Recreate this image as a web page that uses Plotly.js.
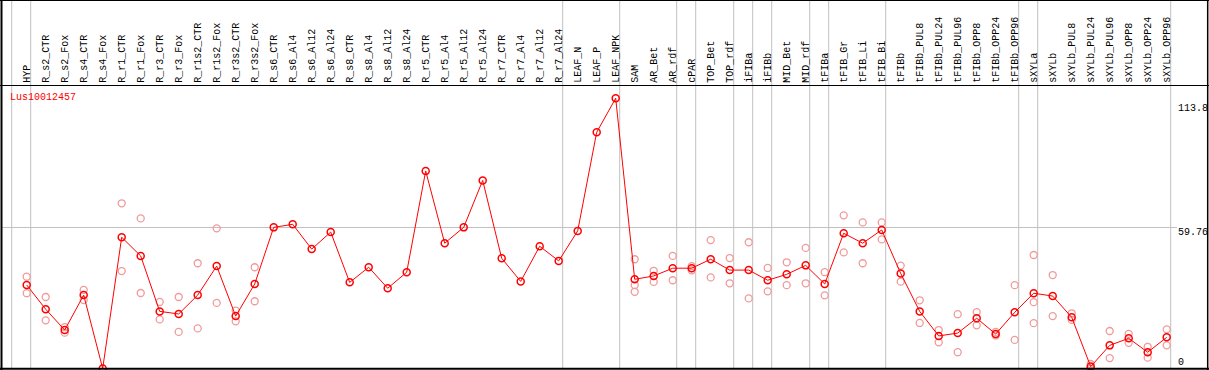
<!DOCTYPE html>
<html>
<head>
<meta charset="utf-8">
<script src="https://cdn.plot.ly/plotly-3.0.1.min.js"></script>
<style>html,body{margin:0;padding:0;background:#fff;}#chart{width:1209px;height:370px;}</style>
</head>
<body>
<div id="chart"></div>
<script>
const categories = ["HYP","R_s2_CTR","R_s2_Fox","R_s4_CTR","R_s4_Fox","R_r1_CTR","R_r1_Fox","R_r3_CTR","R_r3_Fox","R_r1s2_CTR","R_r1s2_Fox","R_r3s2_CTR","R_r3s2_Fox","R_s6_CTR","R_s6_Al4","R_s6_Al12","R_s6_Al24","R_s8_CTR","R_s8_Al4","R_s8_Al12","R_s8_Al24","R_r5_CTR","R_r5_Al4","R_r5_Al12","R_r5_Al24","R_r7_CTR","R_r7_Al4","R_r7_Al12","R_r7_Al24","LEAF_N","LEAF_P","LEAF_NPK","SAM","AR_Bet","AR_rdf","cPAR","TOP_Bet","TOP_rdf","iFIBa","iFIBb","MID_Bet","MID_rdf","tFIBa","tFIB_Gr","tFIB_Li","tFIB_Bi","tFIBb","tFIBb_PUL8","tFIBb_PUL24","tFIBb_PUL96","tFIBb_OPP8","tFIBb_OPP24","tFIBb_OPP96","sXYLa","sXYLb","sXYLb_PUL8","sXYLb_PUL24","sXYLb_PUL96","sXYLb_OPP8","sXYLb_OPP24","sXYLb_OPP96"];

const meanValues = [35.4,25.1,16.3,31.1,0,55.6,47.7,24.2,23.1,31.1,43.4,22.2,35.8,59.8,61.1,50.6,57.8,36.5,42.9,34.0,40.8,83.7,53.1,59.8,79.7,46.7,36.9,51.8,45.6,58.3,100.1,114.5,37.8,39.2,42.5,42.5,46.3,41.7,41.7,37.4,39.9,43.7,35.8,57.3,53.1,58.7,40.3,24.2,13.8,15.0,21.3,14.6,23.8,31.9,30.7,21.7,0.8,9.8,12.8,6.9,13.2];

const rep1 = [38.9,30.3,17.5,33.3,null,70.0,63.6,28.2,30.3,44.6,59.4,24.5,42.9,null,null,null,null,null,null,null,null,null,null,null,null,null,null,null,null,null,null,null,46.3,41.4,47.7,43.4,54.4,46.8,53.5,42.6,45.0,51.1,40.8,64.9,61.9,61.9,43.6,28.9,16.3,23.0,23.9,15.5,35.3,48.1,39.6,23.4,1.9,15.9,14.7,9.2,16.6];
const rep2 = [31.9,20.4,15.2,29.0,null,41.3,32.0,20.8,15.5,17.0,27.8,20.0,28.5,null,null,null,null,null,null,null,null,null,null,null,null,null,null,null,null,null,null,null,35.4,36.7,37.4,41.6,38.6,36.1,29.7,32.7,35.3,36.1,31.0,49.2,44.6,54.7,36.8,19.3,11.1,6.9,18.3,14.0,12.1,28.1,22.2,20.6,0.0,4.4,10.9,4.6,9.8];
const rep3 = [null,null,null,null,null,null,null,null,null,null,null,null,null,null,null,null,null,null,null,null,null,null,null,null,null,null,null,null,null,null,null,null,32.5,null,null,null,null,null,null,null,null,null,null,null,null,null,null,null,null,null,null,null,null,19.2,null,null,null,null,null,null,null];

const geneName = "Lus10012457";
const yTickValues = [113.8, 59.76, 0];
const yTickLabels = ["113.8", "59.76", "0"];
const groupEnds = [-1, 0, 28, 31, 34, 35, 37, 38, 39, 41, 42, 45, 52, 53, 60];

const W = 1209, H = 370;
const idx = categories.map((c, i) => i);
const px = p => p / W;
const py = p => 1 - p / H;
const FONT = "Liberation Mono, DejaVu Sans Mono, monospace";

const repX = [], repY = [];
[rep1, rep2, rep3].forEach(r => r.forEach((v, i) => { if (v !== null) { repX.push(i); repY.push(v); } }));

const traces = [
  {x: repX, y: repY, type: 'scatter', mode: 'markers', cliponaxis: false,
   marker: {symbol: 'circle-open', size: 7, color: '#f09a9a', line: {width: 1.3, color: '#f09a9a'}},
   hoverinfo: 'skip'},
  {x: idx, y: meanValues, type: 'scatter', mode: 'lines+markers', cliponaxis: false,
   line: {color: '#ff0000', width: 1},
   marker: {symbol: 'circle-open', size: 7, color: '#ff0000', line: {width: 1.5, color: '#ff0000'}},
   hoverinfo: 'skip'}
];

const shapes = [];
groupEnds.forEach(g => {
  shapes.push({type: 'line', xref: 'x', yref: 'paper', x0: g + 4/19, x1: g + 4/19, y0: py(368), y1: 1,
    line: {color: '#c0c0c0', width: 1}, layer: 'below'});
});
// mean gridline
shapes.push({type: 'line', xref: 'paper', yref: 'y', x0: px(1), x1: px(1177), y0: yTickValues[1], y1: yTickValues[1],
  line: {color: '#c0c0c0', width: 1}, layer: 'below'});
// header separator and borders
shapes.push({type: 'line', xref: 'paper', yref: 'paper', x0: 0, x1: 1, y0: py(85.5), y1: py(85.5), line: {color: '#000', width: 1.2}});
shapes.push({type: 'line', xref: 'paper', yref: 'paper', x0: 0, x1: 1, y0: py(0.5), y1: py(0.5), line: {color: '#000', width: 1.2}});
shapes.push({type: 'line', xref: 'paper', yref: 'paper', x0: 0, x1: 1, y0: py(368.8), y1: py(368.8), line: {color: '#000', width: 2}});
shapes.push({type: 'line', xref: 'paper', yref: 'paper', x0: px(1.5), x1: px(1.5), y0: 0, y1: 1, line: {color: '#000', width: 2}});
shapes.push({type: 'line', xref: 'paper', yref: 'paper', x0: px(1207.7), x1: px(1207.7), y0: 0, y1: 1, line: {color: '#000', width: 1.5}});

const annotations = categories.map((c, i) => ({
  x: i, xref: 'x', y: py(84), yref: 'paper', text: c, showarrow: false,
  textangle: -90, xanchor: 'center', yanchor: 'bottom',
  font: {family: FONT, size: 10, color: '#000'}, borderpad: 0
}));
annotations.push({x: px(9), xref: 'paper', y: py(97), yref: 'paper', text: geneName, showarrow: false,
  xanchor: 'left', yanchor: 'middle', font: {family: FONT, size: 10, color: '#ff0000'}, borderpad: 0});
const tickPix = [108, 232, 362];
yTickLabels.forEach((t, k) => {
  annotations.push({x: px(1177), xref: 'paper', y: py(tickPix[k]), yref: 'paper', text: t, showarrow: false,
    xanchor: 'left', yanchor: 'middle', font: {family: FONT, size: 10, color: '#000'}, borderpad: 0});
});

const r0 = -26.7 / 19;
const layout = {
  width: W, height: H,
  margin: {l: 0, r: 0, t: 0, b: 0, pad: 0},
  paper_bgcolor: '#fff', plot_bgcolor: '#fff',
  showlegend: false,
  xaxis: {range: [r0, r0 + W / 19], visible: false, showgrid: false, zeroline: false, fixedrange: true},
  yaxis: {range: [-1.5 / 2.36, -1.5 / 2.36 + H / 2.36], visible: false, showgrid: false, zeroline: false, fixedrange: true},
  shapes: shapes,
  annotations: annotations
};

Plotly.newPlot('chart', traces, layout, {displayModeBar: false, staticPlot: true});
</script>
</body>
</html>
